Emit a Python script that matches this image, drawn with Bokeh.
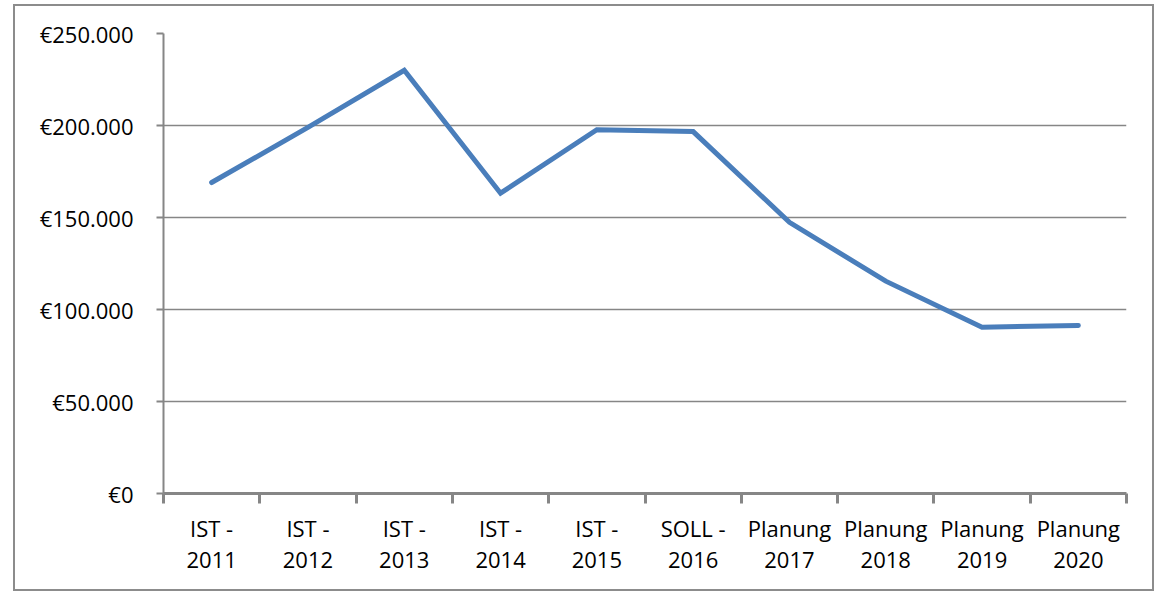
from bokeh.plotting import figure
from bokeh.models import FixedTicker, Range1d, ColumnDataSource
from bokeh.embed import file_html
from bokeh.resources import INLINE

# ---- data ----
cat_top = ["IST -", "IST -", "IST -", "IST -", "IST -", "SOLL -",
           "Planung", "Planung", "Planung", "Planung"]
cat_bottom = ["2011", "2012", "2013", "2014", "2015", "2016",
              "2017", "2018", "2019", "2020"]
values = [169000, 199000, 230000, 163200, 197700, 196700,
          147400, 115400, 90400, 91300]
y_ticks = [0, 50000, 100000, 150000, 200000, 250000]

FONT = "Open Sans"
GRAY = "#868686"
FS = "22px"

n = len(values)
xs = [i + 0.5 for i in range(n)]
src = ColumnDataSource(data=dict(x=xs, y=values))

p = figure(width=1141, height=587, output_backend="svg", toolbar_location=None,
           x_range=Range1d(0, n), y_range=Range1d(0, 250000),
           min_border_left=148, min_border_right=30, min_border_top=27,
           min_border_bottom=100)
p.margin = (4, 0, 0, 13)
p.styles = {"border": "2px solid #8c8c8c"}
p.outline_line_color = None
p.background_fill_color = "white"
p.border_fill_color = "white"

p.line("x", "y", source=src, line_color="#4a7ebb", line_width=5,
       line_join="miter", line_cap="round")

# y axis
ya = p.yaxis[0]
ya.ticker = FixedTicker(ticks=y_ticks)
ya.major_label_overrides = {v: "€" + f"{v:,}".replace(",", ".") for v in y_ticks}
ya.axis_line_color = GRAY
ya.axis_line_width = 2
ya.major_tick_line_color = GRAY
ya.major_tick_line_width = 2
ya.major_tick_in = 0
ya.major_tick_out = 7
ya.minor_tick_line_color = None
ya.major_label_standoff = 23
ya.major_label_text_font = FONT
ya.major_label_text_font_size = FS
ya.major_label_text_color = "black"

# x axis
xa = p.xaxis[0]
xa.ticker = FixedTicker(ticks=xs, minor_ticks=list(range(n + 1)))
xa.major_label_overrides = {x: t + "\n" + b for x, t, b in zip(xs, cat_top, cat_bottom)}
xa.axis_line_color = GRAY
xa.axis_line_width = 3
xa.major_tick_line_color = None
xa.major_tick_in = 0
xa.major_tick_out = 0
xa.minor_tick_line_color = GRAY
xa.minor_tick_line_width = 3
xa.minor_tick_in = 0
xa.minor_tick_out = 10
xa.major_label_standoff = 9
xa.major_label_text_font = FONT
xa.major_label_text_font_size = FS
xa.major_label_text_color = "black"
xa.major_label_text_line_height = 1.05

p.xgrid.grid_line_color = None
p.ygrid.ticker = FixedTicker(ticks=y_ticks)
p.ygrid.grid_line_color = GRAY
p.ygrid.grid_line_width = 1.5

open("out.html", "w").write(file_html(p, INLINE))
